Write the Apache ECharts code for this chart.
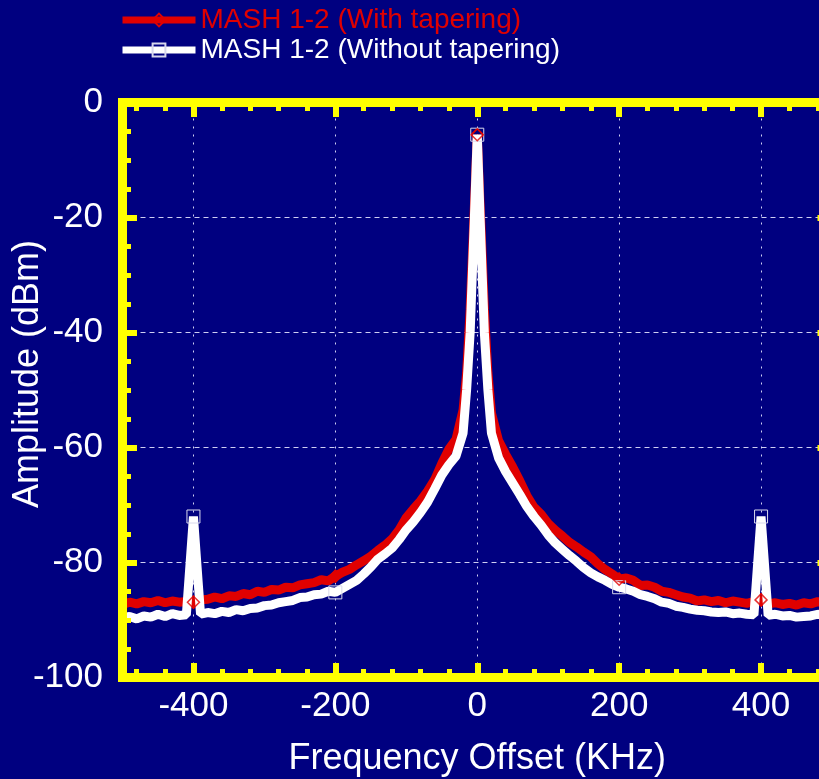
<!DOCTYPE html>
<html><head><meta charset="utf-8">
<script src="https://cdn.jsdelivr.net/npm/echarts@6/dist/echarts.min.js"></script>
<style>html,body{margin:0;padding:0;background:#000080;overflow:hidden}#c{width:819px;height:779px}</style>
</head><body><div id="c"></div>
<script>
// ---- data ----
const freqs = [-500,-490,-480,-470,-460,-450,-440,-430,-420,-410,-407,-400,-393,
  -390,-380,-370,-360,-350,-340,-330,-320,-310,-300,-290,-280,-270,-260,-250,-240,-230,-220,-210,-200,
  -190,-180,-170,-160,-150,-140,-130,-120,-110,-100,-90,-80,-70,-60,-50,-40,-30,-20,
  -15,-10,-4,0,4,10,15,
  20,30,40,50,60,70,80,90,100,110,120,130,140,150,160,170,180,190,200,
  210,220,230,240,250,260,270,280,290,300,310,320,330,340,350,360,370,380,390,
  393,400,407,410,420,430,440,450,460,470,480,490,500];

const withTapering = [-87.3,-86.9,-87.2,-86.8,-87.0,-86.6,-87.0,-86.7,-86.9,-86.8,-86.9,-86.9,-87.0,
  -86.5,-86.4,-86.0,-86.3,-85.8,-85.9,-85.4,-85.6,-85.0,-85.2,-84.7,-84.8,-84.3,-84.4,-83.9,-83.7,-83.5,-83.0,-83.2,-82.4,
  -81.7,-81.2,-80.4,-79.7,-78.9,-77.9,-77.0,-75.9,-74.3,-72.2,-70.7,-69.3,-67.6,-65.6,-62.8,-60.3,-58.6,-53.5,
  -47,-36,-18,-5.6,-18,-36,-47,
  -54,-58.8,-61.2,-63.4,-65.8,-68.4,-70.4,-71.6,-73.2,-74.4,-75.4,-76.5,-77.3,-78.2,-79.0,-80.2,-81.2,-82.0,-82.9,
  -82.7,-83.1,-84.0,-83.9,-84.3,-85.0,-85.2,-85.6,-86.0,-86.2,-86.7,-86.5,-86.8,-86.6,-87.0,-86.7,-86.9,-87.1,-86.8,
  -86.6,-86.5,-86.9,-87.2,-87.0,-87.3,-87.1,-87.4,-87.0,-87.2,-86.8,-87.1,-87.0];

const withoutTapering = [-89.6,-89.4,-89.8,-89.3,-89.5,-89.0,-89.4,-88.9,-89.2,-89.1,-84,-72,-84,
  -89.0,-88.7,-88.9,-88.5,-88.7,-88.2,-88.4,-88.0,-87.9,-87.5,-87.4,-87.0,-86.8,-86.6,-86.1,-86.0,-85.6,-85.5,-85.0,-85.2,
  -84.5,-83.8,-83.1,-82.0,-80.8,-79.4,-78.5,-77.5,-76.0,-74.3,-72.9,-71.3,-69.5,-67.2,-64.8,-63.0,-61.5,-57.5,
  -50,-40,-20,-5.6,-20,-40,-50,
  -57.5,-61.8,-64.2,-66.2,-68.2,-70.3,-72.0,-73.5,-75.2,-76.6,-77.7,-78.8,-79.8,-80.9,-81.8,-82.5,-83.1,-83.8,-84.3,
  -84.6,-85.0,-85.6,-85.9,-86.3,-86.9,-87.1,-87.6,-87.8,-88.1,-88.3,-88.4,-88.6,-88.7,-88.6,-88.9,-88.8,-89.0,-89.1,
  -84,-72,-84,-89.2,-89.0,-89.3,-89.2,-89.5,-89.4,-89.3,-89.0,-89.2,-89.1];

const markerFreqs = [-400,-200,0,200,400];
const xMajorTicks = [-400,-200,0,200,400];
const xMinorTicks = [-480,-440,-360,-320,-280,-240,-160,-120,-80,-40,40,80,120,160,240,280,320,360,440,480];
const seriesNames = ['MASH 1-2 (With tapering)','MASH 1-2 (Without tapering)'];

// ---- styling ----
const FONT = '"Liberation Sans", Arial, sans-serif';
const YEL = '#ffff00';
const RED = '#e00000';
const GRIDC = 'rgba(230,230,255,0.9)';

const pairs = a => freqs.map((f,i)=>[f,a[i]]);
const markerData = a => freqs.map((f,i)=>[f,a[i]]).filter(p=>markerFreqs.includes(p[0]));
const mSize = s => (v => markerFreqs.includes(v[0]) ? s : 0);

function xLineAxis(pos, ticks, len, w, showLine){
  return {type:'value', min:-500, max:500, position:pos, z:10,
    axisLine:{show:showLine, onZero:false, lineStyle:{color:YEL, width:9, cap:'square'}},
    axisTick:{show:true, inside:true, length:len, customValues:ticks, lineStyle:{color:YEL, width:w}},
    axisLabel:{show:false}, splitLine:{show:false}};
}
function yLineAxis(pos){
  return {type:'value', min:-100, max:0, interval:20, position:pos, z:10,
    axisLine:{show:true, onZero:false, lineStyle:{color:YEL, width:9, cap:'square'}},
    axisTick:{show:true, inside:true, length:14.5, lineStyle:{color:YEL, width:6}},
    minorTick:{show:true, splitNumber:4, length:8.5, lineStyle:{color:YEL, width:5}},
    axisLabel:{show:false}, splitLine:{show:false}};
}

const option = {
  backgroundColor:'#000080',
  animation:false,
  textStyle:{fontFamily:FONT},
  grid:{left:122.5, top:102.5, right:-13, bottom:101.5, containLabel:false, outerBoundsMode:'none'},
  legend:{
    orient:'vertical', left:119, top:5, padding:0, itemWidth:73, itemHeight:16, itemGap:0,
    data:[{name:seriesNames[0], textStyle:{color:RED}},{name:seriesNames[1], textStyle:{color:'#ffffff'}}],
    textStyle:{fontSize:28, fontFamily:FONT, lineHeight:30},
    lineStyle:{width:7}
  },
  xAxis:[
    {type:'value', min:-500, max:500, position:'bottom', z:0,
      axisLine:{show:false}, axisTick:{show:false},
      axisLabel:{show:true, customValues:xMajorTicks, margin:11, color:'#fff', fontSize:35, fontFamily:FONT},
      splitLine:{show:true, lineStyle:{color:GRIDC, width:1, type:[2,6]}},
      name:'Frequency Offset (KHz)', nameLocation:'middle', nameGap:64,
      nameTextStyle:{color:'#fff', fontSize:36, fontFamily:FONT}},
    xLineAxis('bottom', xMajorTicks, 14.5, 6, true),
    xLineAxis('bottom', xMinorTicks, 8.5, 5, false),
    xLineAxis('top', xMajorTicks, 14.5, 6, true),
    xLineAxis('top', xMinorTicks, 8.5, 5, false)
  ],
  yAxis:[
    {type:'value', min:-100, max:0, interval:20, position:'left', z:0,
      axisLine:{show:false}, axisTick:{show:false},
      axisLabel:{show:true, margin:19.5, color:'#fff', fontSize:35, fontFamily:FONT},
      splitLine:{show:true, lineStyle:{color:GRIDC, width:1, type:[5,4]}},
      name:'Amplitude (dBm)', nameLocation:'middle', nameGap:76, nameMoveOverlap:false,
      nameTextStyle:{color:'#fff', fontSize:36, fontFamily:FONT, padding:[0,0,0,32]}},
    yLineAxis('left'),
    yLineAxis('right')
  ],
  series:[
    {name:seriesNames[0], type:'line', data:pairs(withTapering), z:2,
      symbol:'diamond', symbolSize:mSize(12),
      lineStyle:{color:RED, width:9, join:'bevel'},
      itemStyle:{color:'transparent', borderColor:RED, borderWidth:1.5}, emphasis:{disabled:true}},
    {name:seriesNames[1], type:'line', data:pairs(withoutTapering), z:3,
      symbol:'rect', symbolSize:mSize(13),
      lineStyle:{color:'#ffffff', width:9, join:'bevel'},
      itemStyle:{color:'transparent', borderColor:'#d8d8ec', borderWidth:1}, emphasis:{disabled:true}},
    {name:'red markers', type:'scatter', data:markerData(withTapering), z:4, silent:true,
      symbol:'diamond', symbolSize:12,
      itemStyle:{color:'transparent', borderColor:RED, borderWidth:1.5}}
  ]
};
const chart = echarts.init(document.getElementById('c'), null, {renderer:'canvas'});
chart.setOption(option);
</script></body></html>
